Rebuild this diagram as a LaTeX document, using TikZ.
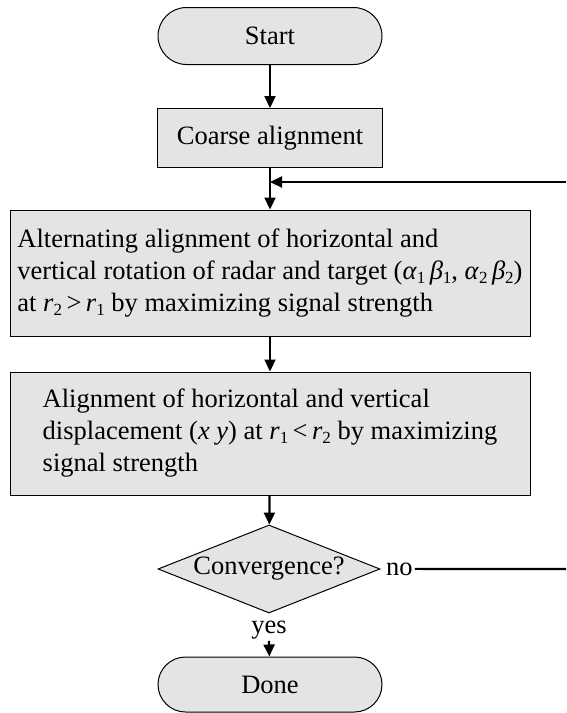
\documentclass[tikz,border=0pt]{standalone}
\usepackage{fontspec}
\setmainfont{Liberation Serif}
\usetikzlibrary{shapes.geometric,shapes.misc,arrows.meta}
\definecolor{boxfill}{RGB}{228,228,228}
\newcommand\lo[1]{\raisebox{-0.3ex}{\fontsize{17}{17}\selectfont #1}}
\begin{document}
\begin{tikzpicture}[x=1pt,y=-1pt, font=\fontsize{26.5}{32}\selectfont,
  box/.style={draw=black, line width=1pt, fill=boxfill},
  term/.style={box, rounded rectangle, minimum width=224pt, minimum height=57pt, inner sep=0pt},
  proc/.style={box, rectangle, inner sep=0pt, align=left, minimum width=520pt},
  decision/.style={box, diamond, minimum width=222pt, minimum height=88pt, inner sep=0pt, aspect=2.5},
  flow/.style={line width=2.2pt, -{Triangle[length=12pt,width=11pt]}},
  plain/.style={line width=2.2pt}]
\useasboundingbox (0,0) rectangle (566,713);

\node[term] (start) at (270,36) {Start};
\node[box, rectangle, minimum width=225pt, minimum height=59pt, inner sep=0pt] (coarse) at (270,138) {Coarse alignment};
\node[proc, minimum height=126pt] (rot) at (270,273) {Alternating alignment of horizontal and\\
vertical rotation of radar and target (\textit{α}\lo{1}\,\textit{β}\lo{1}, \textit{α}\lo{2}\,\textit{β}\lo{2})\\
at \textit{r}\lo{2}\,>\,\textit{r}\lo{1} by maximizing signal strength};
\node[proc, minimum height=123pt] (disp) at (270,433.5) {Alignment of horizontal and vertical\\
displacement (\textit{x y}) at \textit{r}\lo{1}\,<\,\textit{r}\lo{2} by maximizing\\
signal strength};
\node[decision] (conv) at (269,569) {Convergence?};
\node[anchor=base west, inner sep=0pt] (no) at (386,575) {no};
\node[anchor=base, inner sep=0pt] (yes) at (269,633) {yes};
\node[term, minimum height=55pt] (done) at (270,684.5) {Done};

\coordinate (fbin) at (566,182);
\coordinate (fbout) at (566,569);

\draw[flow] (start) -- (coarse);
\draw[flow] (coarse) -- (rot);
\draw[flow] (fbin) -- (coarse.south |- fbin);
\draw[flow] (rot) -- (disp);
\draw[flow] (disp) -- (conv);
\draw[plain] ([xshift=2pt]no.east) -- (fbout);
\draw[flow] ([yshift=-2pt]yes.south) -- (done);
\end{tikzpicture}
\end{document}
